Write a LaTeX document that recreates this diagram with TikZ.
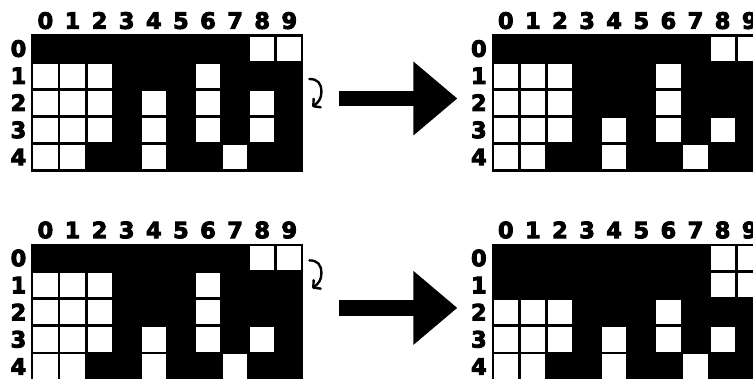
\documentclass[tikz,border=0pt]{standalone}
\usepackage{fontspec}
\setmainfont{DejaVu Sans}
\newfontfamily\digitfont[FakeBold=4]{DejaVu Sans Bold}
\usetikzlibrary{arrows.meta, positioning, calc}

\begin{document}
\begin{tikzpicture}[
    x=1pt, y=-1pt,
    node distance=71pt,
    board/.style={
        rectangle,
        fill=black,
        inner sep=0pt,
        minimum width=272pt,
        minimum height=138pt
    },
    cell/.style={
        rectangle,
        fill=white,
        inner sep=0pt,
        minimum size=24.2pt
    },
    digit/.style={
        inner sep=0pt,
        font=\digitfont\fontsize{22.5}{22.5}\selectfont
    },
    bigarrow/.style={
        line width=15.5pt,
        -{Triangle[length=44pt, width=71pt]},
        shorten <=36pt,
        shorten >=34pt
    },
    spin/.style={
        line width=2.4pt,
        line cap=round,
        -{Straight Barb[length=5pt, width=11pt, round]}
    }
]

\clip (0,0) rectangle (753,379);

\node[board, anchor=north west] (tl) at (31,34.3) {};
\node[board, right=188pt of tl] (tr) {};
\node[board, below=of tl] (bl) {};
\node[board, below=of tr] (br) {};

% numbers round each board
\foreach \g in {tl, tr, bl, br} {
    \foreach \c in {0,...,9}
        \node[digit, anchor=base] (\g-col\c) at ($(\g.north west)+(14.4+27.1*\c, -5.5)$) {\c};
    \foreach \r in {0,...,4}
        \node[digit, anchor=base east] (\g-row\r) at ($(\g.north west)+(-4.5, 22.5+27.1*\r)$) {\r};
}

% white cells, row/column
\foreach \r/\c in {0/8, 0/9, 1/0, 1/1, 1/2, 1/6, 2/0, 2/1, 2/2, 2/4, 2/6, 2/8,
                   3/0, 3/1, 3/2, 3/4, 3/6, 3/8, 4/0, 4/1, 4/4, 4/7}
    \node[cell] (tl-\r-\c) at ($(tl.north west)+(14.4+27.1*\c, 14.5+27.1*\r)$) {};

\foreach \r/\c in {0/8, 0/9, 1/0, 1/1, 1/2, 1/6, 2/0, 2/1, 2/2, 2/6,
                   3/0, 3/1, 3/2, 3/4, 3/6, 3/8, 4/0, 4/1, 4/4, 4/7}
    \node[cell] (tr-\r-\c) at ($(tr.north west)+(14.4+27.1*\c, 14.5+27.1*\r)$) {};

\foreach \r/\c in {0/8, 0/9, 1/0, 1/1, 1/2, 1/6, 2/0, 2/1, 2/2, 2/6,
                   3/0, 3/1, 3/2, 3/4, 3/6, 3/8, 4/0, 4/1, 4/4, 4/7}
    \node[cell] (bl-\r-\c) at ($(bl.north west)+(14.4+27.1*\c, 14.5+27.1*\r)$) {};

\foreach \r/\c in {0/8, 0/9, 1/8, 1/9, 2/0, 2/1, 2/2, 2/6,
                   3/0, 3/1, 3/2, 3/4, 3/6, 3/8, 4/0, 4/1, 4/4, 4/7}
    \node[cell] (br-\r-\c) at ($(br.north west)+(14.4+27.1*\c, 14.5+27.1*\r)$) {};

% little turn marks
\coordinate (tl-spin) at ($(tl.north east)+(6,44.7)$);
\coordinate (bl-spin) at ($(bl.north east)+(6,16.7)$);
\draw[spin] (tl-spin) .. controls +(8,0) and +(0,-9) .. ++(12,13) .. controls +(0,7) and +(6,-5) .. ++(-9,15);
\draw[spin] (bl-spin) .. controls +(8,0) and +(0,-9) .. ++(12,13) .. controls +(0,7) and +(6,-5) .. ++(-9,15);

\draw[bigarrow] ([yshift=5pt]tl.east) -- ([yshift=5pt]tr.west);
\draw[bigarrow] ([yshift=5pt]bl.east) -- ([yshift=5pt]br.west);

\end{tikzpicture}
\end{document}
